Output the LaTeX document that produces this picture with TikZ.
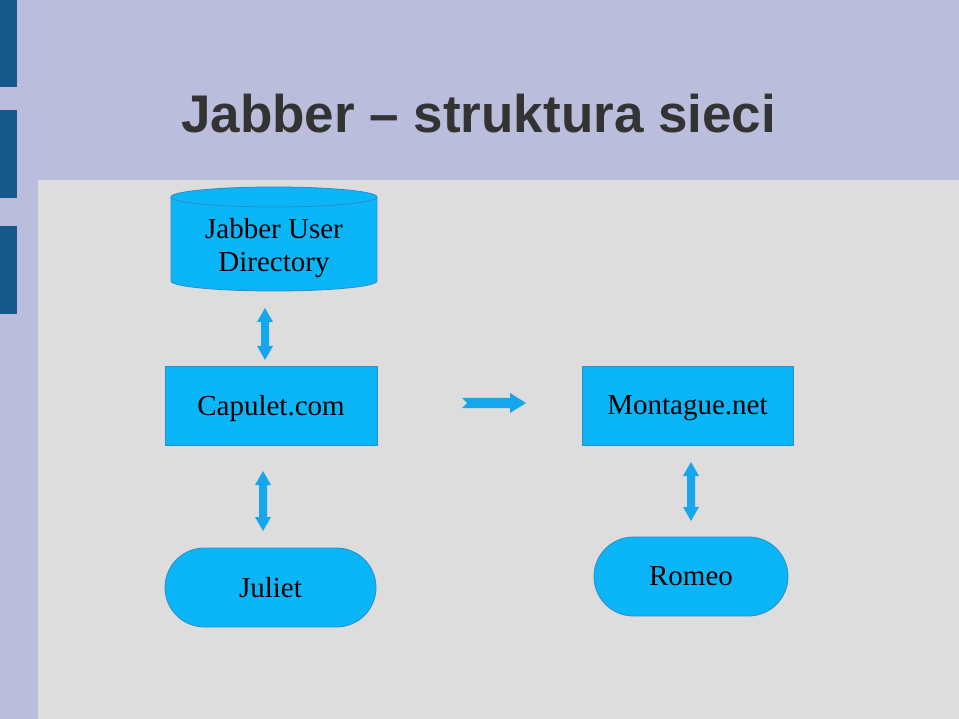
\documentclass[tikz,border=0pt]{standalone}
\usepackage{fontspec}
\setmainfont{Liberation Serif}
\newfontfamily\titlefont{Liberation Sans}
\usetikzlibrary{shapes.misc}
\definecolor{topbg}{RGB}{186,189,219}
\definecolor{graybg}{RGB}{221,221,221}
\definecolor{darkbar}{RGB}{22,88,138}
\definecolor{boxfill}{RGB}{10,182,248}
\definecolor{boxline}{RGB}{45,140,200}
\definecolor{arrowfill}{RGB}{22,166,236}
\definecolor{titlecol}{RGB}{51,51,51}
\newcommand{\lowertext}[1]{\raisebox{-3pt}[\height][\depth]{#1}}
\tikzset{
  box/.style={draw=boxline, line width=0.8pt, fill=boxfill, minimum width=212pt, minimum height=79pt, inner sep=0pt, font=\fontsize{29}{33}\selectfont},
  capsule/.style={box, rounded rectangle},
  txt/.style={inner sep=0pt, align=center, font=\fontsize{29}{33}\selectfont},
  cyl/.style={fill=boxfill, draw=boxline, line width=0.8pt}
}
\begin{document}
\begin{tikzpicture}[x=1pt, y=-1pt]
\useasboundingbox (0,0) rectangle (959,719);
% backgrounds
\fill[topbg] (0,0) rectangle (959,719);
\fill[graybg] (38,180) rectangle (959,719);
\fill[darkbar] (0,0) rectangle (17,87);
\fill[darkbar] (0,110) rectangle (17,198);
\fill[darkbar] (0,226) rectangle (17,314);
% title
\node[anchor=base west, inner sep=0pt, text=titlecol, font=\titlefont\bfseries\fontsize{53}{60}\selectfont] (title) at (181,133) {Jabber – struktura sieci};
% cylinder
\fill[boxfill] (171,197) rectangle (377,281);
\fill[boxfill] (274,281) ellipse (103 and 10);
\draw[boxline, line width=0.8pt] (171,197) -- (171,281) arc (180:0:103 and 10) -- (377,197);
\draw[cyl] (274,197) ellipse (103 and 10);
\node[txt] (dir) at (274,248) {Jabber User\\Directory};
% boxes
\node[box] (capulet) at (271,405.5) {\lowertext{Capulet.com}};
\node[box, minimum width=211pt] (montague) at (687.5,405.5) {\lowertext{Montague.net}};
\node[capsule, minimum width=211pt] (juliet) at (270.5,587.5) {Juliet};
\node[capsule, minimum width=194pt] (romeo) at (691,576.5) {Romeo};
% vertical double arrows
\foreach \cx/\ya/\yb/\nm in {265/308/360/a1, 263/471/531/a2, 691/462/521/a3}{
  \coordinate (\nm top) at (\cx,\ya);
  \coordinate (\nm bot) at (\cx,\yb);
  \fill[arrowfill] (\cx,\ya) -- (\cx+8,\ya+14) -- (\cx+4,\ya+14) -- (\cx+4,\yb-14) -- (\cx+8,\yb-14)
    -- (\cx,\yb) -- (\cx-8,\yb-14) -- (\cx-4,\yb-14) -- (\cx-4,\ya+14) -- (\cx-8,\ya+14) -- cycle;
}
% horizontal arrow with notched tail
\coordinate (h1) at (462,403);
\coordinate (h2) at (526,403);
\fill[arrowfill] (462,398) -- (510,398) -- (510,393) -- (526,403) -- (510,413) -- (510,408) -- (462,408) -- (467,403) -- cycle;
\end{tikzpicture}
\end{document}
